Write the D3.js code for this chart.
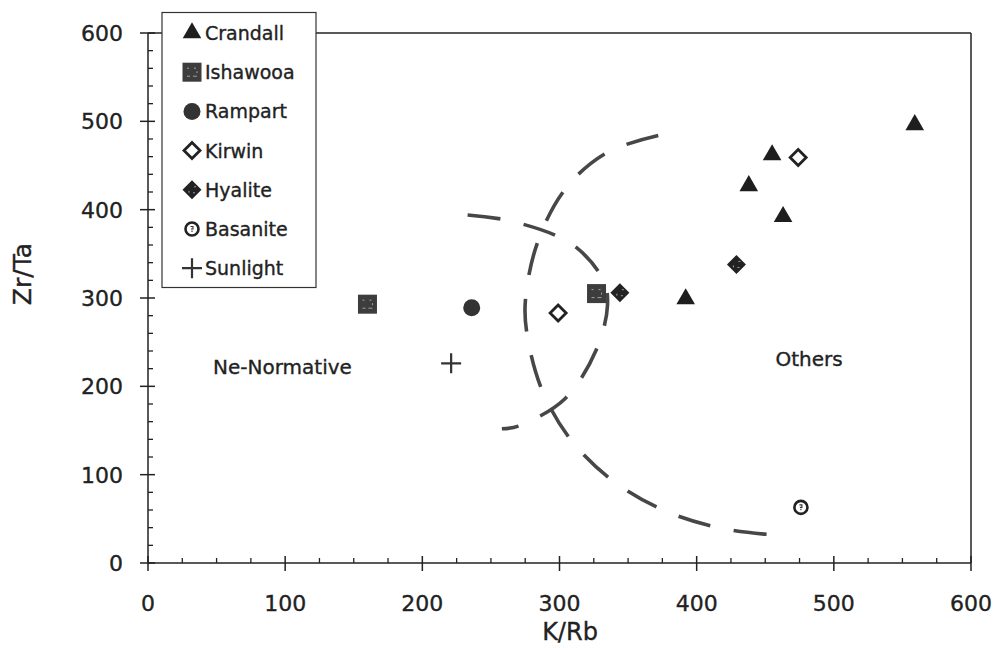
<!DOCTYPE html>
<html>
<head>
<meta charset="utf-8">
<script src="https://cdn.jsdelivr.net/npm/d3@7"></script>
<style>
  html, body { margin: 0; padding: 0; background: #fff; }
  svg { display: block; }
  text { font-family: "DejaVu Sans", Verdana, sans-serif; fill: #222; stroke: #222; stroke-width: 0.35px; }
</style>
</head>
<body>
<svg id="chart" width="997" height="648"></svg>
<script>
// Zr/Ta versus K/Rb for the volcanic suites
const xTicks = [0, 100, 200, 300, 400, 500, 600];
const yTicks = [0, 100, 200, 300, 400, 500, 600];

const crandall = [[392, 299], [438, 427], [455, 462], [463, 392], [559, 496]];
const ishawooa = [[160, 293], [327, 305]];
const rampart  = [[236, 289]];
const kirwin   = [[299, 283], [474, 459]];
const hyalite  = [[344, 306], [429, 338]];
const basanite = [[476, 63]];
const sunlight = [[221, 226]];

// Field boundaries (dashed), in K/Rb, Zr/Ta units
const outerBoundary = [
  [372, 484], [335, 465], [305, 425], [284, 363], [275, 294], [277, 253],
  [288, 193], [309, 138], [339, 93], [377, 59], [419, 39], [462, 31]
];
const innerBoundary = [
  [233, 394], [265, 387], [309, 361], [332, 320], [335, 292], [327, 242],
  [304, 186], [270, 155], [258, 152]
];

const legendNames = ["Crandall", "Ishawooa", "Rampart", "Kirwin", "Hyalite", "Basanite", "Sunlight"];

const svg = d3.select("#chart");
const x = d3.scaleLinear().domain([0, 600]).range([148, 971]);
const y = d3.scaleLinear().domain([0, 600]).range([563, 33]);

const axisColor = "#222";

// Frame: top and right edges
svg.append("line").attr("x1", x(0)).attr("x2", x(600)).attr("y1", y(600)).attr("y2", y(600))
  .attr("stroke", axisColor).attr("stroke-width", 1.3);
svg.append("line").attr("x1", x(600)).attr("x2", x(600)).attr("y1", y(0)).attr("y2", y(600))
  .attr("stroke", axisColor).attr("stroke-width", 1.5);

// X axis: major ticks cross the axis, minor ticks point inward
const gx = svg.append("g").attr("transform", `translate(0,${y(0)})`);
gx.append("line").attr("x1", x(0)).attr("x2", x(600)).attr("stroke", axisColor).attr("stroke-width", 1.5);
gx.selectAll(".minor").data(d3.range(25, 600, 25).filter(v => v % 100 !== 0)).join("line")
  .attr("x1", d => x(d)).attr("x2", d => x(d)).attr("y1", 0).attr("y2", -5)
  .attr("stroke", axisColor).attr("stroke-width", 1.3);
gx.selectAll(".major").data(xTicks).join("line")
  .attr("x1", d => x(d)).attr("x2", d => x(d)).attr("y1", -7).attr("y2", 8)
  .attr("stroke", axisColor).attr("stroke-width", 1.5);
gx.selectAll("text").data(xTicks).join("text")
  .attr("x", d => x(d)).attr("y", 48).attr("text-anchor", "middle")
  .attr("font-size", 22).text(d => d);

// Y axis
const gy = svg.append("g").attr("transform", `translate(${x(0)},0)`);
gy.append("line").attr("y1", y(0)).attr("y2", y(600)).attr("stroke", axisColor).attr("stroke-width", 1.5);
gy.selectAll(".minor").data(d3.range(20, 600, 20).filter(v => v % 100 !== 0)).join("line")
  .attr("y1", d => y(d)).attr("y2", d => y(d)).attr("x1", 0).attr("x2", 5)
  .attr("stroke", axisColor).attr("stroke-width", 1.3);
gy.selectAll(".major").data(yTicks).join("line")
  .attr("y1", d => y(d)).attr("y2", d => y(d)).attr("x1", -8).attr("x2", 7)
  .attr("stroke", axisColor).attr("stroke-width", 1.5);
gy.selectAll("text").data(yTicks).join("text")
  .attr("x", -25).attr("y", d => y(d) + 8).attr("text-anchor", "end")
  .attr("font-size", 22).text(d => d);

// Axis titles
svg.append("text").attr("x", 570).attr("y", 640).attr("text-anchor", "middle")
  .attr("font-size", 24).text("K/Rb");
svg.append("text").attr("transform", `translate(31,274) rotate(-90)`)
  .attr("text-anchor", "middle").attr("font-size", 25).text("Zr/Ta");

// Field labels
svg.append("text").attr("x", x(98)).attr("y", 374).attr("text-anchor", "middle")
  .attr("font-size", 20).text("Ne-Normative");
svg.append("text").attr("x", x(482)).attr("y", 366).attr("text-anchor", "middle")
  .attr("font-size", 20).text("Others");

// Dashed boundaries
const line = d3.line().x(d => x(d[0])).y(d => y(d[1])).curve(d3.curveCatmullRom.alpha(0.5));
[outerBoundary, innerBoundary].forEach(pts => {
  svg.append("path").attr("d", line(pts)).attr("fill", "none")
    .attr("stroke", "#474747").attr("stroke-width", 3.6)
    .attr("stroke-dasharray", "33,24");
});

// Marker drawers
const markers = {
  Crandall: g => g.append("path").attr("d", d3.symbol(d3.symbolTriangle, 150)()).attr("fill", "#1e1e1e"),
  Ishawooa: g => {
    g.append("rect").attr("x", -9.5).attr("y", -9.5).attr("width", 19).attr("height", 19).attr("fill", "#3d3d3d");
    g.append("path").attr("d", "M-5,-4h2M2,-4h2M-5,4h3M1,4h4M5,-1v2")
      .attr("stroke", "#bbb").attr("stroke-width", 0.8);
  },
  Rampart: g => g.append("circle").attr("r", 8.5).attr("fill", "#333"),
  Kirwin: g => g.append("path").attr("d", "M0,-8L8,0L0,8L-8,0Z")
    .attr("fill", "#fff").attr("stroke", "#222").attr("stroke-width", 2.8),
  Hyalite: g => {
    g.append("path").attr("d", "M0,-9.5L9.5,0L0,9.5L-9.5,0Z").attr("fill", "#222");
    g.append("path").attr("d", "M-3,1v2M2,-3h2M1,3h2").attr("stroke", "#aaa").attr("stroke-width", 0.9);
  },
  Basanite: g => {
    g.append("circle").attr("r", 6.5).attr("fill", "#fff").attr("stroke", "#222").attr("stroke-width", 2.6);
    g.append("path").attr("d", "M-1.5,-2.5h2.5v2.5h-2M0,1.5v1.5").attr("fill", "none")
      .attr("stroke", "#333").attr("stroke-width", 1.1);
  },
  Sunlight: g => g.append("path").attr("d", "M-10,0H10M0,-10V10")
    .attr("stroke", "#333").attr("stroke-width", 2.2)
};

const series = [
  ["Crandall", crandall], ["Ishawooa", ishawooa], ["Rampart", rampart], ["Kirwin", kirwin],
  ["Hyalite", hyalite], ["Basanite", basanite], ["Sunlight", sunlight]
];

series.forEach(([name, pts]) => {
  svg.append("g").selectAll("g").data(pts).join("g")
    .attr("transform", d => `translate(${x(d[0])},${y(d[1])})`)
    .each(function () { markers[name](d3.select(this)); });
});

// Legend
const legend = svg.append("g");
legend.append("rect").attr("x", 162).attr("y", 12.5).attr("width", 154).attr("height", 275)
  .attr("fill", "#fff").attr("stroke", "#333").attr("stroke-width", 1.2);
legendNames.forEach((name, i) => {
  const cy = 33 + i * 39.2;
  const g = legend.append("g").attr("transform", `translate(192,${cy})`);
  markers[name](g);
  legend.append("text").attr("x", 205).attr("y", cy + 7).attr("font-size", 19).text(name);
});
</script>
</body>
</html>
